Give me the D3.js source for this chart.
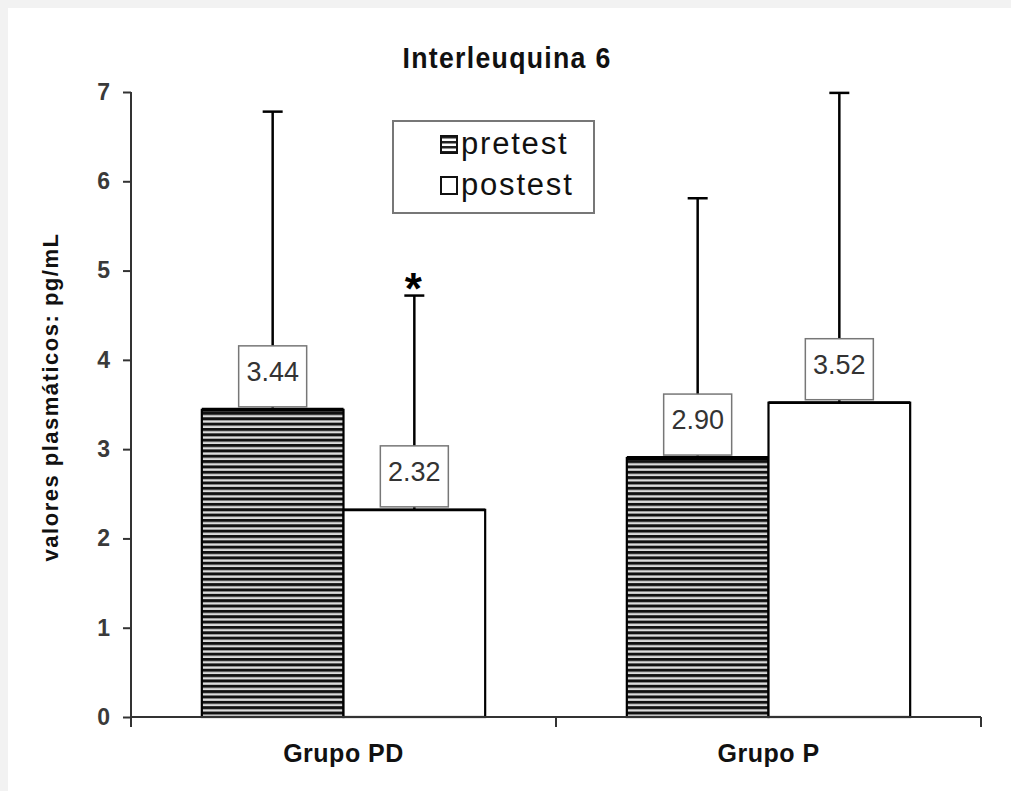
<!DOCTYPE html>
<html><head><meta charset="utf-8">
<script src="https://cdn.jsdelivr.net/npm/d3@7"></script>
<style>
html,body{margin:0;padding:0;background:#f2f2f2;}
svg{display:block;}
</style></head>
<body>
<svg id="chart" width="1011" height="791"></svg>
<script>
const categories = ["Grupo PD", "Grupo P"];
const seriesNames = ["pretest", "postest"];
const pretestValues = [3.44, 2.90];
const postestValues = [2.32, 3.52];
const pretestSD = [3.34, 2.91];
const postestSD = [2.40, 3.47];
const yTicks = [0, 1, 2, 3, 4, 5, 6, 7];
const valueLabels = [["3.44", "2.32"], ["2.90", "3.52"]];
const significant = [[false, true], [false, false]];

const svg = d3.select("#chart");
const W = 1011, H = 791;
svg.append("rect").attr("x", 8).attr("y", 8).attr("width", W - 8).attr("height", H - 8).attr("fill", "#fff");

const defs = svg.append("defs");
const pat = defs.append("pattern").attr("id", "stripes").attr("patternUnits", "userSpaceOnUse")
  .attr("width", 10).attr("height", 5.35);
pat.append("rect").attr("width", 10).attr("height", 5.35).attr("fill", "#dcdcdc");
pat.append("rect").attr("width", 10).attr("height", 3).attr("fill", "#111");
const pat2 = defs.append("pattern").attr("id", "stripesLeg").attr("patternUnits", "userSpaceOnUse")
  .attr("width", 10).attr("height", 5).attr("y", 1);
pat2.append("rect").attr("width", 10).attr("height", 5).attr("fill", "#fff");
pat2.append("rect").attr("width", 10).attr("height", 2.5).attr("fill", "#222");

const y = d3.scaleLinear().domain([0, 7]).range([717, 92]);
const x0 = d3.scaleBand().domain(categories).range([131, 981]).paddingInner(0).paddingOuter(0);
const x1 = d3.scaleBand().domain(seriesNames).range([0, x0.bandwidth()]).paddingInner(0).paddingOuter(0.5);

const rows = categories.map((c, i) => ({
  cat: c,
  items: [
    {s: "pretest", v: pretestValues[i], sd: pretestSD[i], label: valueLabels[i][0], sig: significant[i][0]},
    {s: "postest", v: postestValues[i], sd: postestSD[i], label: valueLabels[i][1], sig: significant[i][1]}
  ]
}));

// title (slightly condensed)
svg.append("g").attr("transform", "translate(507,68) scale(0.92,1)")
  .append("text").attr("x", 0).attr("y", 0).attr("text-anchor", "middle")
  .attr("font-family", "'Liberation Sans Narrow', 'Liberation Sans', Arial, sans-serif")
  .attr("font-weight", "bold").attr("font-size", 29).attr("letter-spacing", 1.4)
  .attr("fill", "#111").text("Interleuquina 6");

// y label
svg.append("text").attr("transform", "translate(58,397) rotate(-90)").attr("text-anchor", "middle")
  .attr("font-family", "'Liberation Sans', Arial, sans-serif").attr("font-weight", "bold")
  .attr("font-size", 22).attr("letter-spacing", 1.5).attr("fill", "#111").text("valores plasmáticos: pg/mL");

// y axis
const yAxis = svg.append("g").attr("transform", "translate(131,0)")
  .call(d3.axisLeft(y).tickValues(yTicks).tickSize(8).tickPadding(13).tickFormat(d3.format("d")));
yAxis.select(".domain").attr("stroke", "#333").attr("stroke-width", 2).attr("d", "M0,92V727");
yAxis.selectAll(".tick line").attr("stroke", "#333").attr("stroke-width", 2);
yAxis.selectAll(".tick text").attr("font-family", "'Liberation Sans', Arial, sans-serif")
  .attr("font-size", 23).attr("font-weight", "bold").attr("fill", "#3a3a3a");

// bars
const g = svg.append("g");
rows.forEach(r => {
  const gx = x0(r.cat);
  r.items.forEach(it => {
    const bx = gx + x1(it.s), bw = x1.bandwidth(), cx = bx + bw / 2;
    const top = y(it.v), errTop = y(it.v + it.sd);
    g.append("line").attr("x1", cx).attr("x2", cx).attr("y1", top).attr("y2", errTop)
      .attr("stroke", "#000").attr("stroke-width", 2.5);
    g.append("line").attr("x1", cx - 10).attr("x2", cx + 10).attr("y1", errTop).attr("y2", errTop)
      .attr("stroke", "#000").attr("stroke-width", 2.5);
    g.append("rect").attr("x", bx).attr("y", top).attr("width", bw).attr("height", y(0) - top)
      .attr("fill", it.s === "pretest" ? "url(#stripes)" : "#fff")
      .attr("stroke", "#000").attr("stroke-width", 2.2);
    g.append("line").attr("x1", bx).attr("x2", bx + bw).attr("y1", top).attr("y2", top)
      .attr("stroke", "#000").attr("stroke-width", it.s === "pretest" ? 4 : 2.8);
    g.append("rect").attr("x", cx - 34).attr("y", top - 64).attr("width", 68).attr("height", 61)
      .attr("fill", "#fff").attr("stroke", "#777").attr("stroke-width", 1.5);
    g.append("text").attr("x", cx).attr("y", top - 29).attr("text-anchor", "middle")
      .attr("font-family", "'Liberation Sans', Arial, sans-serif").attr("font-size", 27)
      .attr("fill", "#333").text(it.label);
    if (it.sig) {
      g.append("text").attr("x", cx - 1).attr("y", errTop + 8).attr("text-anchor", "middle")
        .attr("font-family", "'Liberation Sans', Arial, sans-serif").attr("font-weight", "bold")
        .attr("font-size", 44).attr("fill", "#000").text("*");
    }
  });
});

// x axis
const xAxis = svg.append("g").attr("transform", "translate(0,717)")
  .call(d3.axisBottom(x0).tickSize(0).tickPadding(27));
xAxis.select(".domain").attr("stroke", "#333").attr("stroke-width", 2).attr("d", "M131,0H981");
xAxis.selectAll(".tick text").attr("x", 0)
  .attr("font-family", "'Liberation Sans Narrow', 'Liberation Sans', Arial, sans-serif")
  .attr("font-weight", "bold").attr("font-size", 25).attr("letter-spacing", 0.5).attr("fill", "#111");
[131, x0(categories[1]), 981].forEach(t => {
  svg.append("line").attr("x1", t).attr("x2", t).attr("y1", 717).attr("y2", 727)
    .attr("stroke", "#333").attr("stroke-width", 2);
});

// legend
const leg = svg.append("g");
leg.append("rect").attr("x", 393).attr("y", 121).attr("width", 201).attr("height", 92)
  .attr("fill", "#fff").attr("stroke", "#777").attr("stroke-width", 2);
seriesNames.forEach((s, i) => {
  const ly = 144 + i * 41;
  leg.append("rect").attr("x", 441).attr("y", ly - 8).attr("width", 16).attr("height", 17)
    .attr("fill", s === "pretest" ? "url(#stripesLeg)" : "#fff").attr("stroke", "#111").attr("stroke-width", 2);
  leg.append("text").attr("x", 461).attr("y", ly + 10)
    .attr("font-family", "'Liberation Sans', Arial, sans-serif").attr("font-size", 31)
    .attr("letter-spacing", 1.8).attr("fill", "#111").text(s);
});
</script>
</body></html>
